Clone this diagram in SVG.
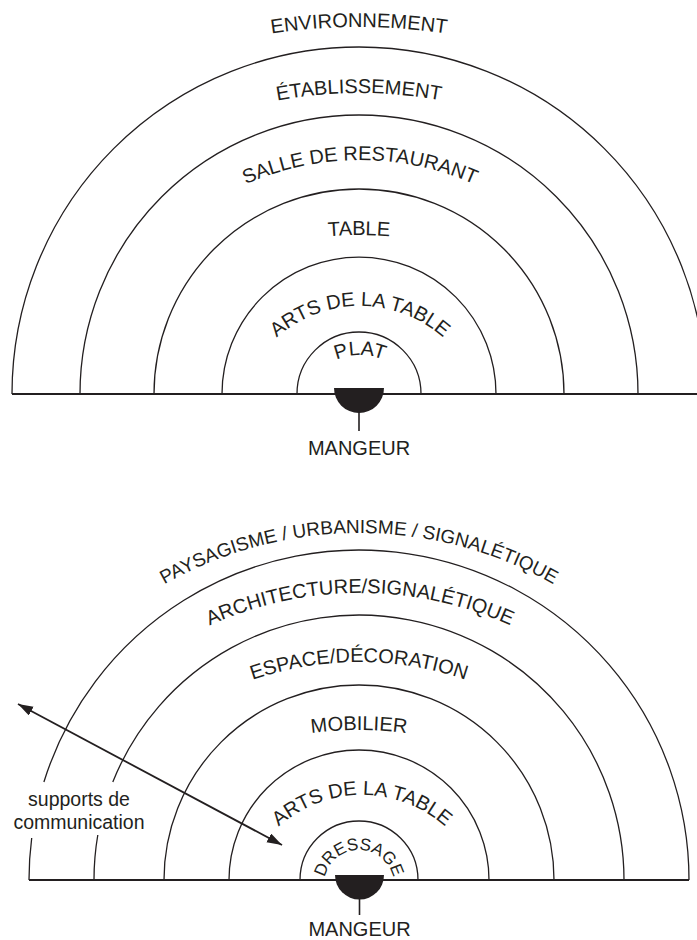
<svg xmlns="http://www.w3.org/2000/svg" width="697" height="940" viewBox="0 0 697 940">
<style>
.arc{fill:none;stroke:#231f20;stroke-width:1.3}
.base{fill:none;stroke:#231f20;stroke-width:1.8}
.lbl{font-family:"Liberation Sans",Arial,Helvetica,sans-serif;font-size:20px;fill:#231f20}
.cup{fill:#231f20}
.stem{stroke:#231f20;stroke-width:1.6}
.arrow{stroke:#231f20;stroke-width:1.8;fill:none}
</style>
<defs>
<marker id="ah" markerUnits="userSpaceOnUse" markerWidth="16" markerHeight="11" refX="15" refY="5" orient="auto-start-reverse">
<path d="M0,0 L15,5 L0,10 z" fill="#231f20"/>
</marker>
<path id="p1" d="M-221,607 A580,580 0 0 1 939,607"/>
<path id="p2" d="M-91,543 A450,450 0 0 1 809,543"/>
<path id="p3" d="M79,441 A281,281 0 0 1 641,441"/>
<path id="p4" d="M-41,635 A400,400 0 0 1 759,635"/>
<path id="p5" d="M234,432 A126,126 0 0 1 486,432"/>
<path id="p6" d="M300,415 A60,60 0 0 1 420,415"/>
<path id="p7" d="M-36,928 A395,395 0 0 1 754,928"/>
<path id="p8" d="M-5,958 A365,365 0 0 1 725,958"/>
<path id="p9" d="M32,989 A327,327 0 0 1 686,989"/>
<path id="p10" d="M-21,1110 A380,380 0 0 1 739,1110"/>
<path id="p11" d="M236,921 A126,126 0 0 1 488,921"/>
<path id="p12" d="M324,885 A35,35 0 0 1 394,885"/>
</defs>

<!-- TOP DIAGRAM -->
<g id="top-environnement">
<text class="lbl"><textPath href="#p1" startOffset="50%" text-anchor="middle">ENVIRONNEMENT</textPath></text>
</g>
<g id="top-etablissement">
<path class="arc" d="M12,394 A347,347 0 0 1 706,394"/>
<text class="lbl"><textPath href="#p2" startOffset="50%" text-anchor="middle">ÉTABLISSEMENT</textPath></text>
</g>
<g id="top-salle">
<path class="arc" d="M80,394 A279,279 0 0 1 638,394"/>
<text class="lbl"><textPath href="#p3" startOffset="50%" text-anchor="middle">SALLE DE RESTAURANT</textPath></text>
</g>
<g id="top-table">
<path class="arc" d="M154,394 A205,205 0 0 1 564,394"/>
<text class="lbl"><textPath href="#p4" startOffset="50%" text-anchor="middle">TABLE</textPath></text>
</g>
<g id="top-arts">
<path class="arc" d="M222,394 A137,137 0 0 1 496,394"/>
<text class="lbl"><textPath href="#p5" startOffset="50%" text-anchor="middle">ARTS DE LA TABLE</textPath></text>
</g>
<g id="top-plat">
<path class="arc" d="M297,394 A62,62 0 0 1 421,394"/>
<text class="lbl"><textPath href="#p6" startOffset="50%" text-anchor="middle">PLAT</textPath></text>
</g>
<line class="base" x1="12" y1="394" x2="697" y2="394"/>
<g id="top-mangeur">
<path class="cup" d="M334,388 L384,388 A25,25 0 0 1 334,388 z"/>
<line class="stem" x1="359" y1="412" x2="359" y2="431"/>
<text class="lbl" x="359" y="455" text-anchor="middle">MANGEUR</text>
</g>

<!-- BOTTOM DIAGRAM -->
<g id="bot-paysagisme">
<path class="arc" d="M29,880 A330,330 0 0 1 31.7,838 M43.9,782 A330,330 0 0 1 689,880"/>
<text class="lbl" style="font-size:19px"><textPath href="#p7" startOffset="50%" text-anchor="middle">PAYSAGISME / URBANISME / SIGNALÉTIQUE</textPath></text>
</g>
<g id="bot-architecture">
<path class="arc" d="M94,880 A265,265 0 0 1 97.8,835 M112.8,782 A265,265 0 0 1 624,880"/>
<text class="lbl"><textPath href="#p8" startOffset="50%" text-anchor="middle">ARCHITECTURE/SIGNALÉTIQUE</textPath></text>
</g>
<g id="bot-espace">
<path class="arc" d="M164,880 A195,195 0 0 1 554,880"/>
<text class="lbl"><textPath href="#p9" startOffset="50%" text-anchor="middle">ESPACE/DÉCORATION</textPath></text>
</g>
<g id="bot-mobilier">
<path class="arc" d="M229,880 A130,130 0 0 1 489,880"/>
<text class="lbl"><textPath href="#p10" startOffset="50%" text-anchor="middle">MOBILIER</textPath></text>
</g>
<g id="bot-arts">
<path class="arc" d="M300,880 A59,59 0 0 1 418,880"/>
<text class="lbl"><textPath href="#p11" startOffset="50%" text-anchor="middle">ARTS DE LA TABLE</textPath></text>
</g>
<g id="bot-dressage">
<text class="lbl" style="font-size:17px"><textPath href="#p12" startOffset="50%" text-anchor="middle">DRESSAGE</textPath></text>
</g>
<line class="base" x1="29" y1="880" x2="689" y2="880"/>
<g id="bot-mangeur">
<path class="cup" d="M335,875 L384,875 A24.5,24.5 0 0 1 335,875 z"/>
<line class="stem" x1="359.5" y1="899" x2="359.5" y2="915"/>
<text class="lbl" x="359.5" y="936" text-anchor="middle">MANGEUR</text>
</g>
<g id="supports">
<text class="lbl" style="font-size:19.5px" text-anchor="middle"><tspan x="79" y="806">supports de</tspan><tspan x="79" y="829">communication</tspan></text>
</g>

<g id="connectors">
<line class="arrow" x1="18" y1="704" x2="282" y2="845" marker-start="url(#ah)" marker-end="url(#ah)"/>
</g>
</svg>
